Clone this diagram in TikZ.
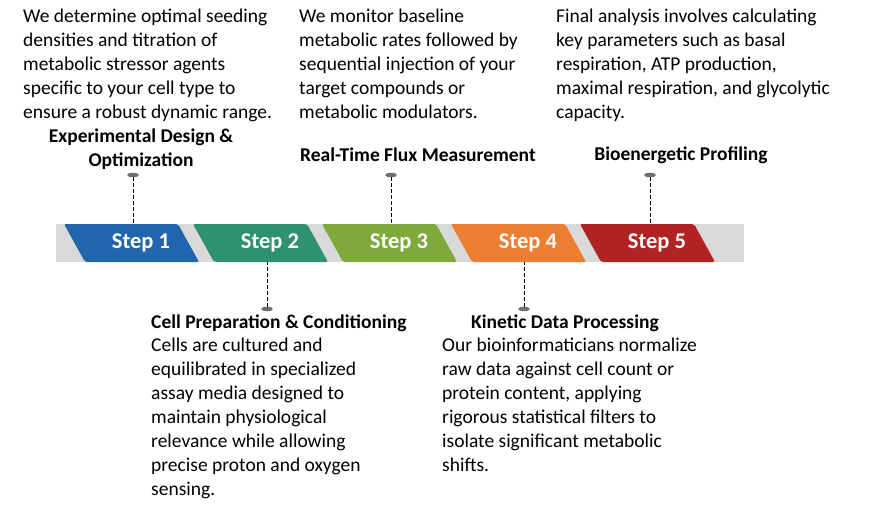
\documentclass[tikz,border=0pt]{standalone}
\usepackage{fontspec}
\setmainfont{Carlito}
\usetikzlibrary{positioning,shapes.geometric}
\definecolor{cOne}{RGB}{33,102,172}
\definecolor{cTwo}{RGB}{46,145,112}
\definecolor{cThree}{RGB}{126,170,60}
\definecolor{cFour}{RGB}{237,125,49}
\definecolor{cFive}{RGB}{178,34,34}
\definecolor{band}{RGB}{217,217,217}
\definecolor{pin}{RGB}{110,110,110}
\tikzset{
  body/.style={anchor=north west,inner sep=0pt,align=left,font=\fontsize{19.5}{24}\selectfont},
  head/.style={inner sep=0pt,align=center,font=\fontsize{19.5}{24}\selectfont\bfseries},
  steplbl/.style={text=white,font=\fontsize{22.5}{24}\selectfont\bfseries},
  pinhead/.style={ellipse,fill=pin,minimum width=12pt,minimum height=4.5pt,inner sep=0pt},
  stem/.style={pin,dash pattern=on 4pt off 2pt,line width=0.9pt}
}
\begin{document}
\begin{tikzpicture}[x=1pt,y=-1pt]
\useasboundingbox (0,0) rectangle (875,507);
% band
\fill[band] (56,224) rectangle (744,262);
% steps
\foreach \i/\c in {1/cOne,2/cTwo,3/cThree,4/cFour,5/cFive}{
  \pgfmathsetmacro{\xl}{64+129*(\i-1)}
  \fill[\c,rounded corners=2pt] (\xl,224) -- ++(114,0) -- ++(21,38) -- ++(-114,0) -- cycle;
  \node[steplbl] (s\i) at (\xl+77,243) {Step \i};
  \coordinate (t\i) at (\xl+69,224);
  \coordinate (b\i) at (\xl+74,262);
}
% pins
\node[pinhead] (p1) at (133,175) {};
\node[pinhead] (p2) at (267,309) {};
\node[pinhead] (p3) at (391,175) {};
\node[pinhead] (p4) at (524,309) {};
\node[pinhead] (p5) at (650,175) {};
\draw[stem] (p1) -- (p1 |- t1);
\draw[stem] (p2) -- (p2 |- b2);
\draw[stem] (p3) -- (p3 |- t3);
\draw[stem] (p4) -- (p4 |- b4);
\draw[stem] (p5) -- (p5 |- t5);
% headings
\node[head] (h1) at (141,149) {Experimental Design \&\\Optimization};
\node[head] (h3) at (418,155) {Real-Time Flux Measurement};
\node[head] (h5) at (681,155) {Bioenergetic Profiling};
\node[head,anchor=west] (h2) at (151,323) {Cell Preparation \& Conditioning};
\node[head] (h4) at (565,323) {Kinetic Data Processing};
% texts
\node[body] (d1) at (23,9) {We determine optimal seeding\\densities and titration of\\metabolic stressor agents\\specific to your cell type to\\ensure a robust dynamic range.};
\node[body] (d3) at (299,9) {We monitor baseline\\metabolic rates followed by\\sequential injection of your\\target compounds or\\metabolic modulators.};
\node[body] (d5) at (556,9) {Final analysis involves calculating\\key parameters such as basal\\respiration, ATP production,\\maximal respiration, and glycolytic\\capacity.};
\node[body] (d2) at (151,338) {Cells are cultured and\\equilibrated in specialized\\assay media designed to\\maintain physiological\\relevance while allowing\\precise proton and oxygen\\sensing.};
\node[body] (d4) at (442,338) {Our bioinformaticians normalize\\raw data against cell count or\\protein content, applying\\rigorous statistical filters to\\isolate significant metabolic\\shifts.};
\end{tikzpicture}
\end{document}
